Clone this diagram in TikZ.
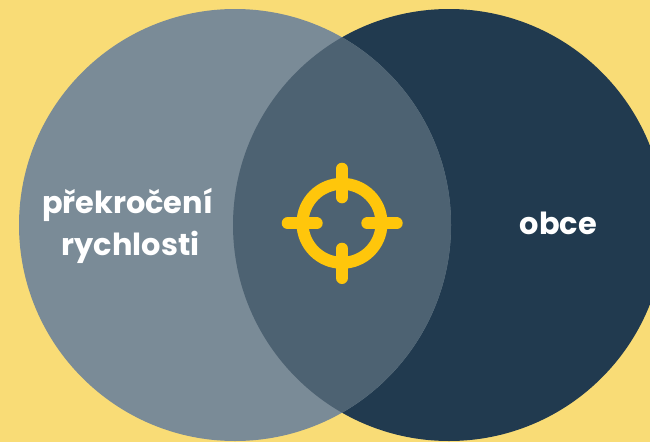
\documentclass[tikz,border=0pt]{standalone}
\usepackage{fontspec}
\setmainfont{Poppins}
\definecolor{bgyellow}{HTML}{F9DC76}
\definecolor{darkblue}{HTML}{213A4F}
\definecolor{greyblue}{HTML}{7A8B97}
\definecolor{overlapblue}{HTML}{4D6272}
\definecolor{target}{HTML}{FFC60B}
\tikzset{
  tick/.style={draw=target,line width=12pt,line cap=round},
  label/.style={text=white,font=\fontsize{30.4}{42}\selectfont\bfseries,align=center,inner sep=0pt}
}
\begin{document}
\begin{tikzpicture}[x=1pt,y=-1pt]
\useasboundingbox (0,0) rectangle (650,442);
\fill[bgyellow] (0,0) rectangle (650,442);
\begin{scope}
\clip (0,0) rectangle (650,442);
\fill[darkblue] (449,225) circle[radius=216];
\fill[greyblue] (235,225) circle[radius=216];
\begin{scope}
\clip (449,225) circle[radius=216];
\fill[overlapblue] (235,225) circle[radius=216];
\end{scope}
\end{scope}
\draw[draw=target,line width=12pt] (342,223.3) circle[radius=39.5];
\draw[tick] (342,168.7) -- (342,197.3);
\draw[tick] (342,248.7) -- (342,278);
\draw[tick] (287.7,223.3) -- (316.7,223.3);
\draw[tick] (367.3,223.3) -- (396.7,223.3);
\node[label,anchor=base] (speedone) at (127.5,213) {překročení};
\node[label,anchor=base] (speedtwo) at (130.5,255) {rychlosti};
\node[label] (towns) at (558.5,223.5) {obce};
\end{tikzpicture}
\end{document}
